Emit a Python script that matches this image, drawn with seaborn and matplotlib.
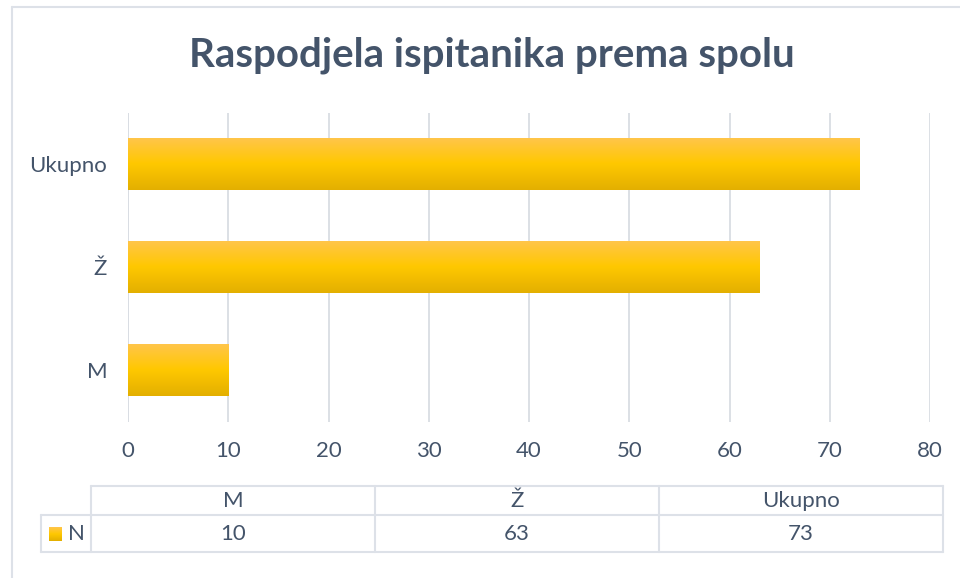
import numpy as np
import pandas as pd
import matplotlib
matplotlib.use("Agg")
import matplotlib.pyplot as plt
import seaborn as sns
from matplotlib.colors import LinearSegmentedColormap

categories = ["M", "Ž", "Ukupno"]
values = [10, 63, 73]
series_name = "N"
title = "Raspodjela ispitanika prema spolu"
xticks = [0, 10, 20, 30, 40, 50, 60, 70, 80]

sns.set_theme(style="white")
plt.rcParams["font.family"] = ["Lato", "DejaVu Sans"]

TXT = "#44546A"
GRID = "#D9DDE3"
FS = 16

df = pd.DataFrame({"cat": categories, "val": values})

W, H = 960, 578
fig = plt.figure(figsize=(9.6, 5.78), dpi=100)
fig.patch.set_facecolor("white")

ax = fig.add_axes([128 / W, 1 - 421.5 / H, (930 - 128) / W, (421.5 - 112.5) / H])
order = categories[::-1]
sns.barplot(data=df, x="val", y="cat", order=order, orient="h", width=0.505,
            color="#FFC800", ax=ax, zorder=3)

cmap = LinearSegmentedColormap.from_list("g", ["#FFC54D", "#FFC800", "#E3AF00"])
grad = np.linspace(0, 1, 256).reshape(-1, 1)
for p in ax.patches:
    x0, y0 = p.get_x(), p.get_y()
    w, h = p.get_width(), p.get_height()
    p.set_edgecolor("none")
    im = ax.imshow(grad, cmap=cmap, aspect="auto",
                   extent=[x0, x0 + w, y0 + h, y0], zorder=4)
    im.set_clip_path(p)

ax.set_xlim(0, 80)
ax.set_ylim(2.5, -0.5)
ax.set_xticks(xticks)
ax.set_xticklabels([str(t) for t in xticks])
ax.grid(axis="x", color=GRID, linewidth=1.3, zorder=0)
ax.set_axisbelow(True)
for s in ax.spines.values():
    s.set_visible(False)
ax.axvline(0, color=GRID, linewidth=1.3, zorder=1)
ax.set_xlabel("")
ax.set_ylabel("")
ax.tick_params(axis="x", colors=TXT, labelsize=FS, length=0, pad=14)
ax.tick_params(axis="y", colors=TXT, labelsize=FS, length=0, pad=15)
for lbl in ax.get_xticklabels() + ax.get_yticklabels():
    lbl.set_color(TXT)

# overlay in pixel coordinates
ov = fig.add_axes([0, 0, 1, 1], zorder=10)
ov.axis("off")
ov.patch.set_alpha(0)

# chart frame
ov.plot([12, 12], [7, H], color="#DDE1E8", lw=1.5)
ov.plot([12, W], [7, 7], color="#DDE1E8", lw=1.5)

ov.text(492, 55, title, ha="center", va="center", fontsize=29,
        fontweight="bold", color=TXT)

# data table
TL = "#DDE1E8"
cols = [91, 375, 659, 943]
ov.plot([91, 943], [486, 486], color=TL, lw=1.5)
ov.plot([41, 943], [515, 515], color=TL, lw=1.5)
ov.plot([41, 943], [552, 552], color=TL, lw=1.5)
ov.plot([41, 41], [515, 552], color=TL, lw=1.5)
for c in cols:
    ov.plot([c, c], [486, 552], color=TL, lw=1.5)
for i, (cat, v) in enumerate(zip(categories, values)):
    cx = (cols[i] + cols[i + 1]) / 2
    ov.text(cx, 501, cat, ha="center", va="center", fontsize=FS, color=TXT)
    ov.text(cx, 534, str(v), ha="center", va="center", fontsize=FS, color=TXT)
ov.imshow(grad, cmap=cmap, aspect="auto", extent=[49, 62, 541, 527], zorder=5)
ov.text(68, 534, series_name, ha="left", va="center", fontsize=FS, color=TXT)
ov.set_xlim(0, W)
ov.set_ylim(H, 0)

fig.savefig("out.png", dpi=100, facecolor="white")
